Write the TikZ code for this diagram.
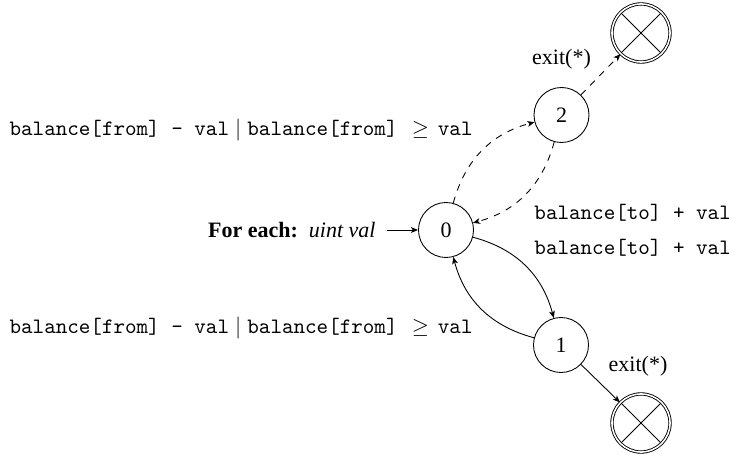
\documentclass[tikz,border=0pt]{standalone}
\usepackage{fontspec}
\setmainfont{Liberation Serif}
\usetikzlibrary{arrows.meta}
\begin{document}
\begin{tikzpicture}[x=0.4545pt,y=-0.4545pt,
  state/.style={circle,draw,minimum size=25pt,inner sep=0pt},
  exitstate/.style={circle,draw,double,double distance=0.7pt,minimum size=26.4pt,inner sep=0pt,
    path picture={\draw (path picture bounding box.north west) -- (path picture bounding box.south east)
                        (path picture bounding box.north east) -- (path picture bounding box.south west);}},
  trans/.style={-{Stealth[length=3.2pt,width=2.6pt,inset=0.8pt]}},
  lbl/.style={inner sep=0pt}
]
\useasboundingbox (0,0) rectangle (729,455);

% states
\node[state] (q0) at (446,230) {0};
\node[state] (q2) at (561.5,115) {2};
\node[state] (q1) at (561,345) {1};
\node[exitstate] (e2) at (641,33) {};
\node[exitstate] (e1) at (641,423) {};

% entry
\node[anchor=east,inner xsep=5pt,inner ysep=2pt] (init) at (387,230)
  {\textbf{For each:}\hspace{5pt}\textit{uint val}};
\draw[trans] (init) -- (q0);

% transitions
\draw[trans,dashed] (q0) to[bend left=30] (q2);
\draw[trans,dashed] (q2) to[bend left=30] (q0);
\draw[trans] (q0) to[bend left=30] (q1);
\draw[trans] (q1) to[bend left=30] (q0);
\draw[trans,dashed] (q2) -- (e2);
\draw[trans] (q1) -- (e1);

% labels
\node[lbl,anchor=east] (l20) at (473,130)
  {\texttt{balance[from] - val}$\;\mid\;$\texttt{balance[from] }\hspace{1.3pt}$\geq$\hspace{4pt}\texttt{val}};
\node[lbl,anchor=east] (l10) at (473,328)
  {\texttt{balance[from] - val}$\;\mid\;$\texttt{balance[from] }\hspace{1.3pt}$\geq$\hspace{4pt}\texttt{val}};
\node[lbl,anchor=west] (l02) at (534,213) {\texttt{balance[to] + val}};
\node[lbl,anchor=west] (l01) at (534,248) {\texttt{balance[to] + val}};
\node[lbl] (x2) at (561.5,59) {exit(*)};
\node[lbl] (x1) at (638,366) {exit(*)};
\end{tikzpicture}
\end{document}
